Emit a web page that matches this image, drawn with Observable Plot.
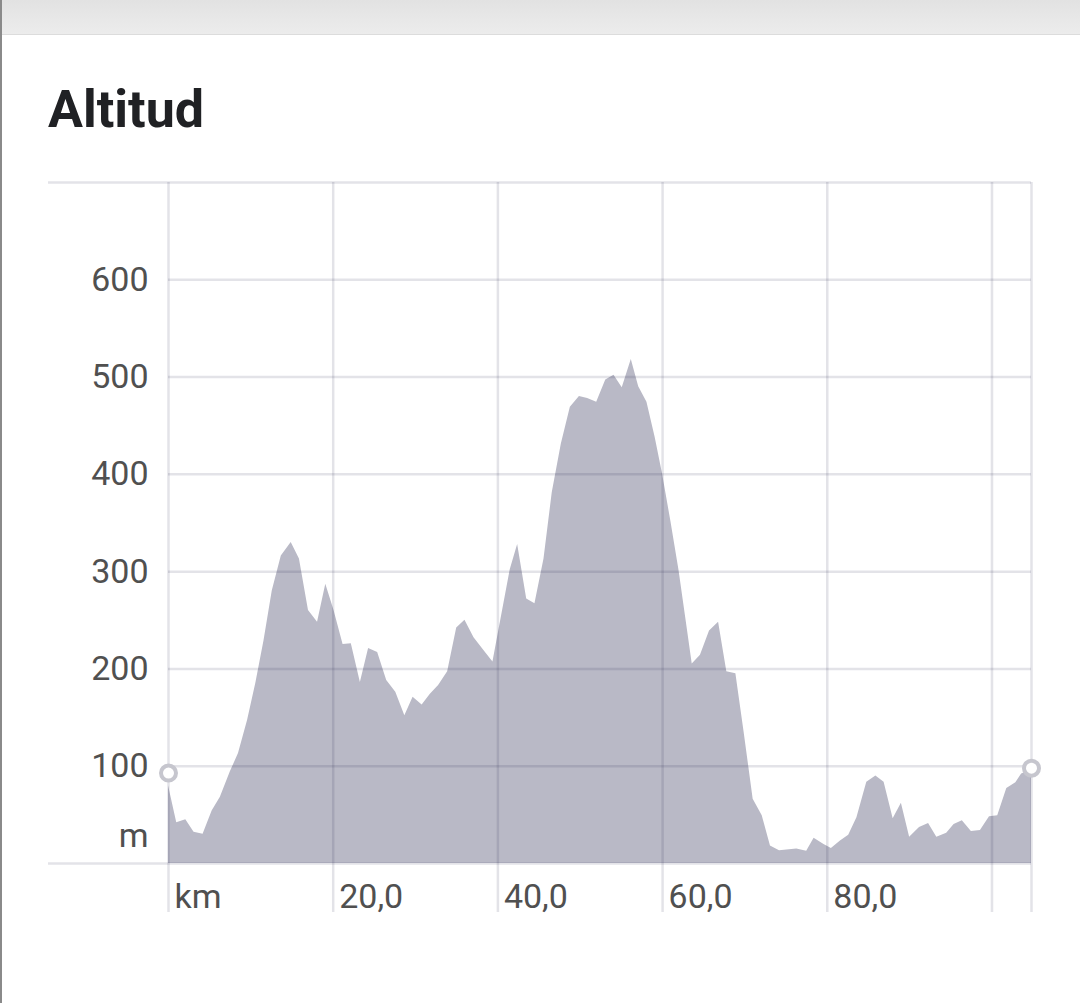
<!DOCTYPE html>
<html>
<head>
<meta charset="utf-8">
<script src="https://cdn.jsdelivr.net/npm/d3@7"></script>
<script src="https://cdn.jsdelivr.net/npm/@observablehq/plot@0.6"></script>
<style>
  html, body { margin: 0; padding: 0; background: #fff; }
  body { position: relative; width: 1080px; height: 1003px; overflow: hidden; font-family: Roboto, "Noto Sans", sans-serif; }
  #topbar { position: absolute; left: 0; top: 0; width: 1080px; height: 35px; background: linear-gradient(#e2e2e2, #ececec); border-bottom: 1px solid #dcdcdc; box-sizing: border-box; }
  #leftline { position: absolute; left: 0; top: 0; width: 2px; height: 1003px; background: #8a8a8a; }
  #title { position: absolute; left: 48px; top: 84px; font-size: 52px; line-height: 52px; font-weight: 700; color: #202124; font-family: Roboto, sans-serif; }
  #chart { position: absolute; left: 0; top: 150px; }
</style>
</head>
<body>
<div id="topbar"></div>
<div id="leftline"></div>
<div id="title">Altitud</div>
<div id="chart"></div>
<script>
// Distance along the route (km) and altitude (m)
const km = [0, 1.0, 2.1, 3.1, 4.2, 5.3, 6.3, 7.5, 8.5, 9.6, 10.6, 11.6, 12.6, 13.7, 14.9, 15.9, 17.0, 18.1, 19.1, 20.1,
  21.2, 22.2, 23.3, 24.3, 25.4, 26.5, 27.6, 28.7, 29.7, 30.8, 31.8, 32.8, 33.9, 35.0, 36.0, 37.1, 38.3, 39.4, 41.5, 42.4,
  43.5, 44.5, 45.6, 46.6, 47.7, 48.8, 49.9, 50.9, 52.0, 53.1, 54.1, 55.1, 56.2, 57.1, 58.1, 59.1, 60.0, 61.0, 62.0, 62.8,
  63.6, 64.6, 65.7, 66.8, 67.8, 68.9, 69.9, 71.0, 72.1, 73.1, 74.2, 76.3, 77.5, 78.4, 79.6, 80.5, 81.6, 82.6, 83.6, 84.8,
  85.9, 86.9, 88.0, 89.0, 90.0, 91.2, 92.3, 93.3, 94.5, 95.4, 96.4, 97.5, 98.6, 99.7, 100.7, 101.8, 102.9, 103.6, 104.8];
const altitude = [80, 42, 45, 32, 30, 54, 68, 94, 113, 147, 185, 229, 280, 316, 330, 313, 260, 248, 287, 260,
  225, 226, 186, 221, 217, 188, 176, 152, 171, 163, 174, 183, 197, 242, 250, 232, 219, 207, 302, 328,
  272, 267, 313, 381, 431, 469, 480, 478, 474, 497, 502, 489, 518, 490, 474, 438, 400, 352, 301, 253,
  205, 214, 239, 248, 197, 195, 135, 66, 49, 18, 13, 15, 12.5, 26, 19.5, 15.5, 23, 29, 47, 83.5,
  90, 83.5, 46, 62, 27, 37, 41, 27, 31, 40, 44, 33, 34, 48, 49, 77, 83, 92, 96];

// Start / end markers
const markerKm = [0, 104.8];
const markerAlt = [93, 98];

// Ticks
const routeLength = 104.8;
const yTicks = [100, 200, 300, 400, 500, 600];
const yFrame = [0, 700];
const xTicks = [0, 20, 40, 60, 80];
const xGrid = [0, 20, 40, 60, 80, 100, routeLength];

const profile = km.map((k, i) => ({km: k, alt: altitude[i]}));
const markers = markerKm.map((k, i) => ({km: k, alt: markerAlt[i]}));

const gridStyle = {stroke: "#1a1a40", strokeOpacity: 0.12, strokeWidth: 2.5};
const textColor = "#505050";

const chart = Plot.plot({
  width: 1080,
  height: 773,
  marginLeft: 168,
  marginRight: 49,
  marginTop: 32,
  marginBottom: 60,
  style: {fontFamily: "Roboto, sans-serif", fontSize: "34px", color: textColor, background: "transparent"},
  x: {domain: [0, routeLength]},
  y: {domain: [0, 700]},
  marks: [
    Plot.areaY(profile, {x: "km", y: "alt", fill: "#b9b9c6"}),
    Plot.ruleY(yTicks, gridStyle),
    Plot.ruleY(yFrame, {...gridStyle, insetLeft: -120}),
    Plot.ruleX(xGrid, {...gridStyle, insetBottom: -49}),
    Plot.dot(markers, {x: "km", y: "alt", r: 7.5, fill: "white", stroke: "#c6c6ce", strokeWidth: 4}),
    Plot.axisY(yTicks, {tickSize: 0, tickPadding: 20, fontSize: 34, fill: textColor, label: null}),
    Plot.axisY([0], {tickSize: 0, tickPadding: 20, fontSize: 34, fill: textColor, dy: -27, tickFormat: () => "m", label: null}),
    Plot.axisX(xTicks, {tickSize: 0, tickPadding: 20, fontSize: 34, fill: textColor, textAnchor: "start", dx: 6,
      tickFormat: d => d === 0 ? "km" : d.toFixed(1).replace(".", ","), label: null})
  ]
});
document.getElementById("chart").appendChild(chart);
</script>
</body>
</html>
